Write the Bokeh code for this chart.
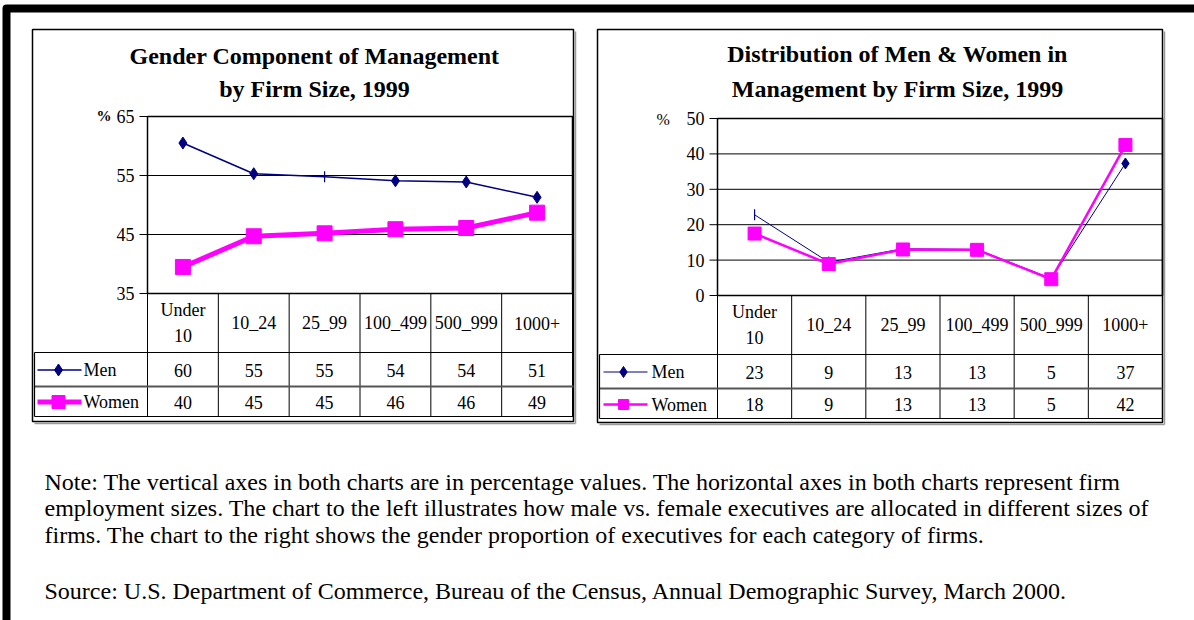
import math
from bokeh.plotting import figure
from bokeh.models import Range1d
from bokeh.core.properties import value
from bokeh.embed import file_html
from bokeh.resources import INLINE

# ---------------- data ----------------
categories = ["Under\n10", "10_24", "25_99", "100_499", "500_999", "1000+"]
series_names = ["Men", "Women"]

left_title = ["Gender Component of Management", "by Firm Size, 1999"]
left_men = [60.5, 55.3, 54.8, 54.1, 53.9, 51.3]
left_women = [39.5, 44.7, 45.2, 45.9, 46.1, 48.7]
left_men_table = [60, 55, 55, 54, 54, 51]
left_women_table = [40, 45, 45, 46, 46, 49]
left_ticks = [35, 45, 55, 65]

right_title = ["Distribution of Men & Women in", "Management by Firm Size, 1999"]
right_men = [22.8, 9.4, 13.2, 13.0, 4.8, 37.3]
right_women = [17.5, 8.9, 13.0, 12.9, 4.6, 42.5]
right_men_table = [23, 9, 13, 13, 5, 37]
right_women_table = [18, 9, 13, 13, 5, 42]
right_ticks = [0, 10, 20, 30, 40, 50]

note_lines = [
    "Note: The vertical axes in both charts are in percentage values. The horizontal axes in both charts represent firm",
    "employment sizes. The chart to the left illustrates how male vs. female executives are allocated in different sizes of",
    "firms. The chart to the right shows the gender proportion of executives for each category of firms.",
]
source_line = "Source: U.S. Department of Commerce, Bureau of the Census, Annual Demographic Survey, March 2000."

# ---------------- styles / layout (page pixels) ----------------
W, H, OFF = 1194, 620, 0
FONT = value("Liberation Serif")
MEN_C = "#000080"
WOMEN_C = "#FF00FF"

p = figure(width=W, height=H, x_range=Range1d(OFF, OFF + W), y_range=Range1d(OFF + H, OFF),
           x_axis_type=None, y_axis_type=None, toolbar_location=None, output_backend="svg",
           min_border=0, outline_line_color=None, background_fill_color="white",
           border_fill_color="white")
p.xgrid.visible = False
p.ygrid.visible = False

# outer page frame (thick black band on top and left, rounded corner)
p.line(x=[6, 6, W + 10], y=[H + 10, 8, 8], line_color="black", line_width=8, line_join="round")


def col_range(px_left, px_right, n):
    cw = (px_right - px_left) / n
    return Range1d((OFF - px_left) / cw, (OFF + W - px_left) / cw)


def val_range(p_bottom, p_top, vmin, vmax):
    s = (vmax - vmin) / (p_bottom - p_top)
    return Range1d(vmin + (p_bottom - (OFF + H)) * s, vmin + (p_bottom - OFF) * s)


charts = [
    dict(name="l", title=left_title, men=left_men, women=left_women,
         men_tab=left_men_table, women_tab=left_women_table, ticks=left_ticks,
         box=(32, 573, 29, 421), plot=(147, 572, 116, 293), table=(34, 352, 386, 416),
         title_x=314, title_y=(55, 88), pct=dict(x=96, y=115, bold=True),
         cat_y=322.5, row_y=(369.5, 401.5),
         leg=dict(x0=37, x1=81, xm=58, xt=83),
         men_w=1.5, women_w=5, men_size=10, women_size=15, leg_w_size=13,
         men_markers=["diamond", "diamond", "dash", "diamond", "diamond", "diamond"]),
    dict(name="r", title=right_title, men=right_men, women=right_women,
         men_tab=right_men_table, women_tab=right_women_table, ticks=right_ticks,
         box=(597, 1162, 29, 422), plot=(717, 1162, 118, 295), table=(599, 354, 388, 418),
         title_x=897, title_y=(53, 88), pct=dict(x=656, y=119, bold=False),
         cat_y=324, row_y=(371.5, 404),
         leg=dict(x0=603, x1=647, xm=623, xt=651),
         men_w=1, women_w=2.5, men_size=9, women_size=13, leg_w_size=10,
         men_markers=["dash", "diamond", "diamond", "diamond", "diamond", "diamond"]),
]

extra_x, extra_y = {}, {}
for c in charts:
    pl, pr, pt, pb = c["plot"]
    extra_x[c["name"] + "x"] = col_range(pl, pr, len(categories))
    extra_y[c["name"] + "y"] = val_range(pb, pt, min(c["ticks"]), max(c["ticks"]))
p.extra_x_ranges = extra_x
p.extra_y_ranges = extra_y

for c in charts:
    xn, yn = c["name"] + "x", c["name"] + "y"
    bl, br, bt, bb = c["box"]
    pl, pr, pt, pb = c["plot"]
    tl, r1, r2, tb = c["table"]
    n = len(categories)
    vmin, vmax = min(c["ticks"]), max(c["ticks"])
    centers = [i + 0.5 for i in range(n)]

    # chart box with faint shadow
    p.segment(x0=[br + 2], y0=[bt + 2], x1=[br + 2], y1=[bb + 2], line_color="#9a9a9a", line_width=1.5)
    p.segment(x0=[bl + 2], y0=[bb + 2], x1=[br + 2], y1=[bb + 2], line_color="#9a9a9a", line_width=1.5)
    p.quad(left=[bl], right=[br], top=[bt], bottom=[bb], fill_color="white", line_color="black", line_width=1.5)

    # title
    for line, ty in zip(c["title"], c["title_y"]):
        p.text(x=[c["title_x"]], y=[ty], text=[line], text_font=FONT, text_font_size="24px",
               text_font_style="bold", text_align="center", text_baseline="middle", text_color="black")

    # gridlines at ticks
    p.segment(x0=[0] * len(c["ticks"]), x1=[n] * len(c["ticks"]), y0=c["ticks"], y1=c["ticks"],
              x_range_name=xn, y_range_name=yn, line_color="black", line_width=1)
    # plot area border
    p.quad(left=[0], right=[n], top=[vmax], bottom=[vmin], fill_color=None, line_color="black",
           line_width=1.5, x_range_name=xn, y_range_name=yn)
    # tick marks and labels
    p.segment(x0=[pl - 8] * len(c["ticks"]), x1=[pl] * len(c["ticks"]), y0=c["ticks"], y1=c["ticks"],
              y_range_name=yn, line_color="black", line_width=1)
    p.text(x=[pl - 13] * len(c["ticks"]), y=c["ticks"], text=[str(t) for t in c["ticks"]],
           y_range_name=yn, text_font=FONT, text_font_size="18px", text_align="right",
           text_baseline="middle", text_color="black")
    p.text(x=[c["pct"]["x"]], y=[c["pct"]["y"]], text=["%"], text_font=FONT,
           text_font_size="15px" if c["pct"]["bold"] else "16px",
           text_font_style="bold" if c["pct"]["bold"] else "normal",
           text_align="left", text_baseline="middle", text_color="black")

    # data table: category row
    p.segment(x0=list(range(n + 1)), x1=list(range(n + 1)), y0=[pb] * (n + 1), y1=[tb] * (n + 1),
              x_range_name=xn, line_color="black", line_width=1)
    p.text(x=centers, y=[c["cat_y"]] * n, text=categories, x_range_name=xn, text_font=FONT,
           text_font_size="18px", text_align="center", text_baseline="middle",
           text_line_height=1.3, text_color="black")
    # series rows
    p.segment(x0=[tl], x1=[br], y0=[r1], y1=[r1], line_color="black", line_width=1.2)
    p.segment(x0=[tl], x1=[br], y0=[r2], y1=[r2], line_color="#555555", line_width=2)
    p.segment(x0=[tl], x1=[br], y0=[tb], y1=[tb], line_color="black", line_width=1.2)
    p.segment(x0=[tl], x1=[tl], y0=[r1], y1=[tb], line_color="black", line_width=1.2)
    p.text(x=centers, y=[c["row_y"][0]] * n, text=[str(v) for v in c["men_tab"]], x_range_name=xn,
           text_font=FONT, text_font_size="18px", text_align="center", text_baseline="middle",
           text_color="black")
    p.text(x=centers, y=[c["row_y"][1]] * n, text=[str(v) for v in c["women_tab"]], x_range_name=xn,
           text_font=FONT, text_font_size="18px", text_align="center", text_baseline="middle",
           text_color="black")

    # legend keys in the table
    lg = c["leg"]
    my, wy = c["row_y"]
    p.segment(x0=[lg["x0"]], x1=[lg["x1"]], y0=[my], y1=[my], line_color=MEN_C, line_width=c["men_w"])
    p.scatter(x=[lg["xm"]], y=[my], marker="diamond", size=c["men_size"] + 2, fill_color=MEN_C, line_color=MEN_C)
    p.segment(x0=[lg["x0"]], x1=[lg["x1"]], y0=[wy], y1=[wy], line_color=WOMEN_C, line_width=c["women_w"])
    p.scatter(x=[lg["xm"]], y=[wy], marker="square", size=c["leg_w_size"], fill_color=WOMEN_C, line_color=WOMEN_C)
    p.text(x=[lg["xt"]] * 2, y=[my, wy], text=series_names, text_font=FONT, text_font_size="18px",
           text_align="left", text_baseline="middle", text_color="black")

    # series
    p.line(x=centers, y=c["men"], x_range_name=xn, y_range_name=yn, line_color=MEN_C, line_width=c["men_w"])
    for mk in sorted(set(c["men_markers"])):
        idx = [i for i, m in enumerate(c["men_markers"]) if m == mk]
        if mk == "dash":
            p.scatter(x=[centers[i] for i in idx], y=[c["men"][i] for i in idx], marker="dash",
                      angle=math.pi / 2, size=11, line_color=MEN_C, line_width=1.2,
                      x_range_name=xn, y_range_name=yn)
        else:
            p.scatter(x=[centers[i] for i in idx], y=[c["men"][i] for i in idx], marker="diamond",
                      size=c["men_size"] + 2, fill_color=MEN_C, line_color=MEN_C,
                      x_range_name=xn, y_range_name=yn)
    p.line(x=centers, y=c["women"], x_range_name=xn, y_range_name=yn, line_color=WOMEN_C,
           line_width=c["women_w"])
    p.scatter(x=centers, y=c["women"], marker="square", size=c["women_size"], fill_color=WOMEN_C,
              line_color=WOMEN_C, x_range_name=xn, y_range_name=yn)

# notes
p.text(x=[44] * len(note_lines), y=[481, 507.5, 534], text=note_lines, text_font=FONT,
       text_font_size="24px", text_align="left", text_baseline="middle", text_color="black")
p.text(x=[44], y=[590], text=[source_line], text_font=FONT, text_font_size="24px",
       text_align="left", text_baseline="middle", text_color="black")

open("out.html", "w").write(file_html(p, INLINE))
